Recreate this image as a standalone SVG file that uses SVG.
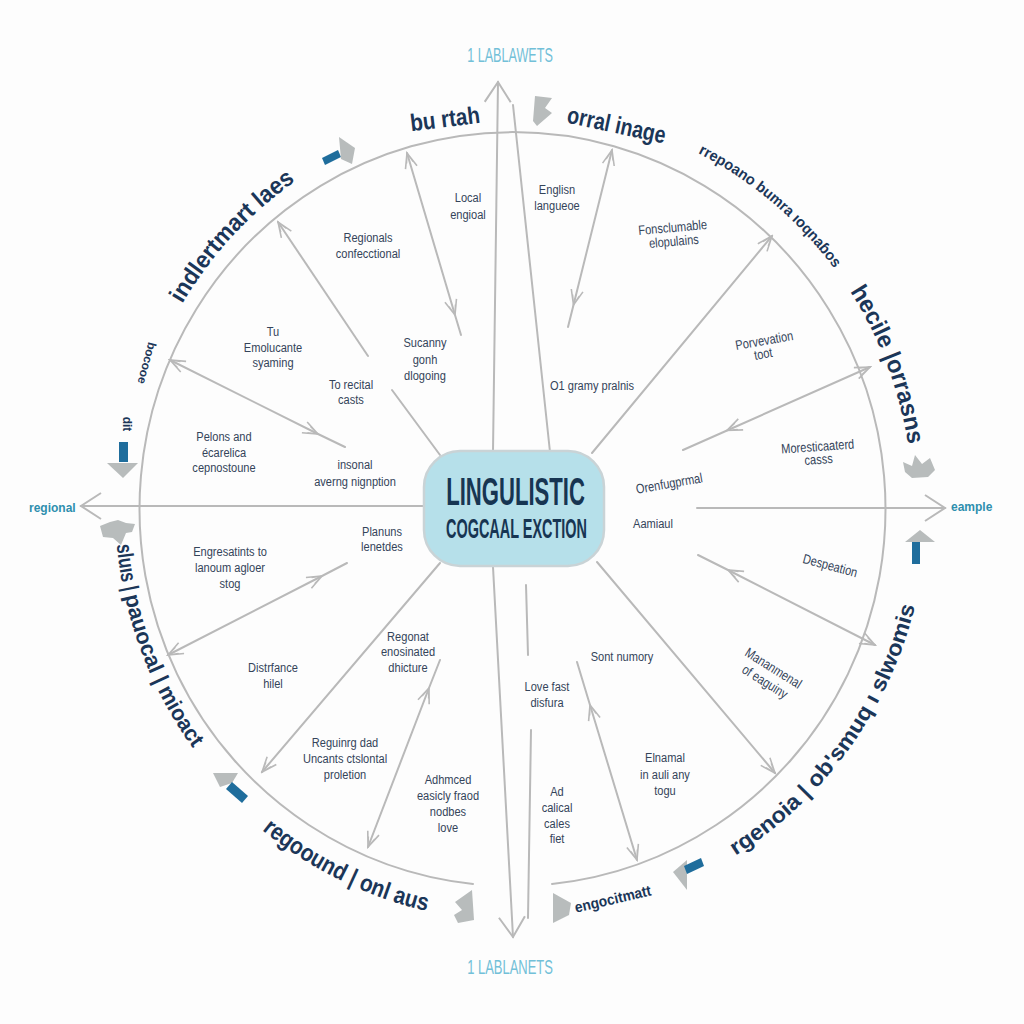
<svg xmlns="http://www.w3.org/2000/svg" width="1024" height="1024" viewBox="0 0 1024 1024">
<style>
.ln{stroke:#b9b9b9;stroke-width:2;fill:none;stroke-linecap:round;stroke-linejoin:round}
.lb{font-family:"Liberation Sans",Arial,sans-serif;font-size:13.5px;fill:#34445a;text-anchor:middle}
.ot{font-family:"Liberation Sans",Arial,sans-serif;font-weight:700;fill:#1b3658}
.tl{font-family:"Liberation Sans",Arial,sans-serif;fill:#72c0d8;font-size:20px;text-anchor:middle}
.tk{font-family:"Liberation Sans",Arial,sans-serif;font-weight:700;fill:#2e8fae;font-size:12px}
.icg{fill:#b8bcbc}
.icb{fill:#1f6d9c}
</style>
<defs>
<marker id="sm" viewBox="0 0 18 14" refX="16" refY="7" markerWidth="18" markerHeight="14" markerUnits="userSpaceOnUse" orient="auto-start-reverse">
<path d="M1,1 L16,7 L1,13 M6,3.5 L16,7 L6,10.5" fill="none" stroke="#b9b9b9" stroke-width="1.6"/>
</marker>
<marker id="bg" viewBox="0 0 24 28" refX="22" refY="14" markerWidth="24" markerHeight="28" markerUnits="userSpaceOnUse" orient="auto-start-reverse">
<path d="M2,1 L22,14 L2,27" fill="none" stroke="#b9b9b9" stroke-width="2"/>
</marker>
<path id="p-ul" d="M158.2,351.9 A393,397 0 0 1 341.6,153.3"/>
<path id="p-tr" d="M679.8,144.3 A393,397 0 0 1 845.8,285"/>
<path id="p-r" d="M829.7,262.6 A393,397 0 0 1 912,479.3"/>
<path id="p-lr" d="M711.1,869.9 A407,411 0 0 0 920.8,578.4"/>
<path id="p-l" d="M115.2,492.7 A405,409 0 0 0 228.7,791.1"/>
<path id="p-bl" d="M214.6,784.7 A411,415 0 0 0 491.3,921"/>
</defs>
<rect width="1024" height="1024" fill="#fdfdfd"/>

<g id="ring">
<path class="ln" d="M473,884 A373,377 0 1 1 552,884"/>
</g>

<g id="connectors">
<line class="ln" x1="493" y1="451" x2="498" y2="82" marker-end="url(#bg)"/>
<line class="ln" x1="550" y1="452" x2="513" y2="105"/>
<line class="ln" x1="493" y1="567" x2="513" y2="937" marker-end="url(#bg)"/>
<line class="ln" x1="526" y1="585" x2="528" y2="655"/>
<line class="ln" x1="531" y1="730" x2="528" y2="918"/>
<line class="ln" x1="423" y1="506" x2="81" y2="506" marker-end="url(#bg)"/>
<line class="ln" x1="697" y1="508" x2="945" y2="508" marker-end="url(#bg)"/>
<line class="ln" x1="368" y1="356" x2="278" y2="222" marker-end="url(#sm)"/>
<line class="ln" x1="392" y1="390" x2="440" y2="455"/>
<polyline class="ln" points="407,153 455,315 461,335" marker-start="url(#sm)" marker-mid="url(#sm)"/>
<polyline class="ln" points="170,360 318,434 345,447" marker-start="url(#sm)" marker-mid="url(#sm)"/>
<polyline class="ln" points="612,150 573.5,305 568,327" marker-start="url(#sm)" marker-mid="url(#sm)"/>
<line class="ln" x1="592" y1="453" x2="772" y2="236" marker-end="url(#sm)"/>
<polyline class="ln" points="870,367 727,430.5 683,450" marker-start="url(#sm)" marker-mid="url(#sm)"/>
<polyline class="ln" points="875,645 728,570 698,555" marker-start="url(#sm)" marker-mid="url(#sm)"/>
<line class="ln" x1="597" y1="562" x2="775" y2="773" marker-end="url(#sm)"/>
<polyline class="ln" points="637,860 590,705 577,662" marker-start="url(#sm)" marker-mid="url(#sm)"/>
<line class="ln" x1="440" y1="563" x2="262" y2="772" marker-end="url(#sm)"/>
<polyline class="ln" points="368,847 429,688 440,660" marker-start="url(#sm)" marker-mid="url(#sm)"/>
<polyline class="ln" points="168,655 322,576 347,563" marker-start="url(#sm)" marker-mid="url(#sm)"/>
</g>

<g id="node-center">
<rect x="424" y="451" width="180" height="115" rx="36" fill="#b6e0ea" stroke="#c9d3d6" stroke-width="2.5"/>
<text transform="translate(515.5 505) scale(0.583 1)" font-family="'Liberation Sans',Arial,sans-serif" font-weight="700" font-size="38" fill="#173552" text-anchor="middle" textLength="238" lengthAdjust="spacingAndGlyphs">LINGULISTIC</text>
<text transform="translate(516.5 538) scale(0.515 1)" font-family="'Liberation Sans',Arial,sans-serif" font-weight="700" font-size="28" fill="#173552" text-anchor="middle" textLength="274" lengthAdjust="spacingAndGlyphs">COGCAAL EXCTION</text>
</g>

<g id="n-top"><text class="tl" transform="translate(510 62) scale(0.63 1)" textLength="136" lengthAdjust="spacingAndGlyphs">1 LABLAWETS</text></g>
<g id="n-bottom"><text class="tl" transform="translate(510 974) scale(0.63 1)" textLength="136" lengthAdjust="spacingAndGlyphs">1 LABLANETS</text></g>
<g id="n-regional"><text class="tk" x="29" y="512">regional</text></g>
<g id="n-eample"><text class="tk" x="951" y="511">eample</text></g>

<g id="outer-labels">
<g id="o-burtah"><text class="ot" font-size="24" text-anchor="middle" transform="translate(446 127) rotate(-7)" textLength="70" lengthAdjust="spacingAndGlyphs">bu rtah</text></g>
<g id="o-orral"><text class="ot" font-size="24" text-anchor="middle" transform="translate(615 133) rotate(12)" textLength="100" lengthAdjust="spacingAndGlyphs">orral inage</text></g>
<g id="o-ul"><text class="ot" font-size="24" text-anchor="middle"><textPath href="#p-ul" startOffset="50%" textLength="168" lengthAdjust="spacingAndGlyphs">indlertmart laes</textPath></text></g>
<g id="o-tr"><text class="ot" font-size="15" text-anchor="middle"><textPath href="#p-tr" startOffset="50%" textLength="180" lengthAdjust="spacingAndGlyphs">rrepoano  bumra  ıoqnaɓos</textPath></text></g>
<g id="o-r"><text class="ot" font-size="24" text-anchor="middle"><textPath href="#p-r" startOffset="50%" textLength="165" lengthAdjust="spacingAndGlyphs">hecile |orrasns</textPath></text></g>
<g id="o-lr"><text class="ot" font-size="22" text-anchor="middle"><textPath href="#p-lr" startOffset="50%" textLength="315" lengthAdjust="spacingAndGlyphs">rgenoia | ob'smuq ı slwomis</textPath></text></g>
<g id="o-l">
<text class="ot" font-size="22"><textPath href="#p-l" startOffset="52" textLength="48" lengthAdjust="spacingAndGlyphs">sluıs |</textPath></text>
<text class="ot" font-size="22"><textPath href="#p-l" startOffset="104" textLength="95" lengthAdjust="spacingAndGlyphs">pauocal |</textPath></text>
<text class="ot" font-size="22"><textPath href="#p-l" startOffset="204" textLength="68" lengthAdjust="spacingAndGlyphs">mioact</textPath></text>
</g>
<g id="o-bl"><text class="ot" font-size="24" text-anchor="middle"><textPath href="#p-bl" startOffset="50%" textLength="185" lengthAdjust="spacingAndGlyphs">regoound | onl aus</textPath></text></g>
<g id="o-engo"><text class="ot" font-size="15" text-anchor="middle" transform="translate(614 904) rotate(-13)" textLength="78" lengthAdjust="spacingAndGlyphs">engocitmatt</text></g>
<g id="o-bocooe"><text class="ot" font-size="12" text-anchor="middle" transform="translate(143 362) rotate(105)">bocooe</text></g>
<g id="o-dit"><text class="ot" font-size="12" text-anchor="middle" transform="translate(123 424) rotate(90)">dit</text></g>
</g>

<g id="decor">
<polygon class="icb" points="322,158 338,150 341,157 325,165"/>
<polygon class="icg" points="339,137 355,148 352,164 341,159"/>
<polygon class="icg" points="535,96 552,98 545,108 552,113 537,126 533,121"/>
<rect class="icb" x="119" y="442" width="9" height="20"/>
<polygon class="icg" points="107,463 138,463 123,478"/>
<polygon class="icg" points="100,526 110,522 118,520 126,523 135,524 132,532 126,533 121,545 113,538 103,537"/>
<polygon class="icg" points="903,462 912,466 915,455 922,464 930,458 935,470 928,477 912,478 905,472"/>
<polygon class="icg" points="905,542 935,542 920,530"/>
<rect class="icb" x="912" y="542" width="8" height="22"/>
<polygon class="icg" points="213,773 238,773 232,783 220,787"/>
<polygon class="icb" points="226,789 232,782 248,796 242,803"/>
<polygon class="icg" points="472,890 474,920 458,923 454,915 462,910 455,902"/>
<polygon class="icg" points="553,893 571,903 569,915 553,923"/>
<polygon class="icg" points="687,860 673,872 687,890"/>
<polygon class="icb" points="684,866 701,858 704,866 687,874"/>
</g>

<g id="n-local"><text class="lb" transform="translate(468 202) scale(.82 1)"><tspan x="0">Local</tspan><tspan x="0" dy="17">engioal</tspan></text></g>
<g id="n-regionals"><text class="lb" transform="translate(368 242) scale(.82 1)"><tspan x="0">Regionals</tspan><tspan x="0" dy="16">confecctional</tspan></text></g>
<g id="n-english"><text class="lb" transform="translate(557 194) scale(.82 1)"><tspan x="0">Englisn</tspan><tspan x="0" dy="16">langueoe</tspan></text></g>
<g id="n-fonsc"><text class="lb" transform="translate(673 232) rotate(-5) scale(.82 1)"><tspan x="0">Fonsclumable</tspan><tspan x="0" dy="14">elopulains</tspan></text></g>
<g id="n-tu"><text class="lb" transform="translate(273 336) scale(.82 1)"><tspan x="0">Tu</tspan><tspan x="0" dy="16">Emolucante</tspan><tspan x="0" dy="15">syaming</tspan></text></g>
<g id="n-sucanny"><text class="lb" transform="translate(425 347) scale(.82 1)"><tspan x="0">Sucanny</tspan><tspan x="0" dy="17">gonh</tspan><tspan x="0" dy="16">dlogoing</tspan></text></g>
<g id="n-recital"><text class="lb" transform="translate(351 389) scale(.82 1)"><tspan x="0">To recital</tspan><tspan x="0" dy="15">casts</tspan></text></g>
<g id="n-pelons"><text class="lb" transform="translate(224 441) scale(.82 1)"><tspan x="0">Pelons and</tspan><tspan x="0" dy="16">écarelica</tspan><tspan x="0" dy="15">cepnostoune</tspan></text></g>
<g id="n-insonal"><text class="lb" transform="translate(355 469) scale(.82 1)"><tspan x="0">insonal</tspan><tspan x="0" dy="17">averng nignption</tspan></text></g>
<g id="n-gramy"><text class="lb" transform="translate(592 390) scale(.82 1)">O1 gramy pralnis</text></g>
<g id="n-porv"><text class="lb" transform="translate(765 345) rotate(-10) scale(.82 1)"><tspan x="0">Porvevation</tspan><tspan x="-4" dy="13">toot</tspan></text></g>
<g id="n-moresti"><text class="lb" transform="translate(818 451) rotate(-4) scale(.82 1)"><tspan x="0">Moresticaaterd</tspan><tspan x="0" dy="13">casss</tspan></text></g>
<g id="n-orenf"><text class="lb" transform="translate(670 488) rotate(-10) scale(.82 1)">Orenfugprmal</text></g>
<g id="n-aamiaul"><text class="lb" transform="translate(653 528) scale(.82 1)">Aamiaul</text></g>
<g id="n-despe"><text class="lb" transform="translate(829 570) rotate(15) scale(.82 1)">Despeation</text></g>
<g id="n-manan"><text class="lb" transform="translate(771 672) rotate(32) scale(.82 1)"><tspan x="0">Mananmenal</tspan><tspan x="0" dy="16">of eaguiny</tspan></text></g>
<g id="n-sont"><text class="lb" transform="translate(622 661) scale(.82 1)">Sont numory</text></g>
<g id="n-love"><text class="lb" transform="translate(547 691) scale(.82 1)"><tspan x="0">Love fast</tspan><tspan x="0" dy="16">disfura</tspan></text></g>
<g id="n-elnamal"><text class="lb" transform="translate(665 762) scale(.82 1)"><tspan x="0">Elnamal</tspan><tspan x="0" dy="17">in auli any</tspan><tspan x="0" dy="16">togu</tspan></text></g>
<g id="n-ad"><text class="lb" transform="translate(557 796) scale(.82 1)"><tspan x="0">Ad</tspan><tspan x="0" dy="16">calical</tspan><tspan x="0" dy="16">cales</tspan><tspan x="0" dy="15">fiet</tspan></text></g>
<g id="n-planuns"><text class="lb" transform="translate(382 536) scale(.82 1)"><tspan x="0">Planuns</tspan><tspan x="0" dy="15">lenetdes</tspan></text></g>
<g id="n-engres"><text class="lb" transform="translate(230 556) scale(.82 1)"><tspan x="0">Engresatints to</tspan><tspan x="0" dy="16">lanoum agloer</tspan><tspan x="0" dy="16">stog</tspan></text></g>
<g id="n-distr"><text class="lb" transform="translate(273 672) scale(.82 1)"><tspan x="0">Distrfance</tspan><tspan x="0" dy="16">hilel</tspan></text></g>
<g id="n-regonat"><text class="lb" transform="translate(408 641) scale(.82 1)"><tspan x="0">Regonat</tspan><tspan x="0" dy="15">enosinated</tspan><tspan x="0" dy="16">dhicture</tspan></text></g>
<g id="n-reguin"><text class="lb" transform="translate(345 747) scale(.82 1)"><tspan x="0">Reguinrg dad</tspan><tspan x="0" dy="16">Uncants ctslontal</tspan><tspan x="0" dy="16">proletion</tspan></text></g>
<g id="n-adhm"><text class="lb" transform="translate(448 784) scale(.82 1)"><tspan x="0">Adhmced</tspan><tspan x="0" dy="16">easicly fraod</tspan><tspan x="0" dy="16">nodbes</tspan><tspan x="0" dy="16">love</tspan></text></g>
</svg>
